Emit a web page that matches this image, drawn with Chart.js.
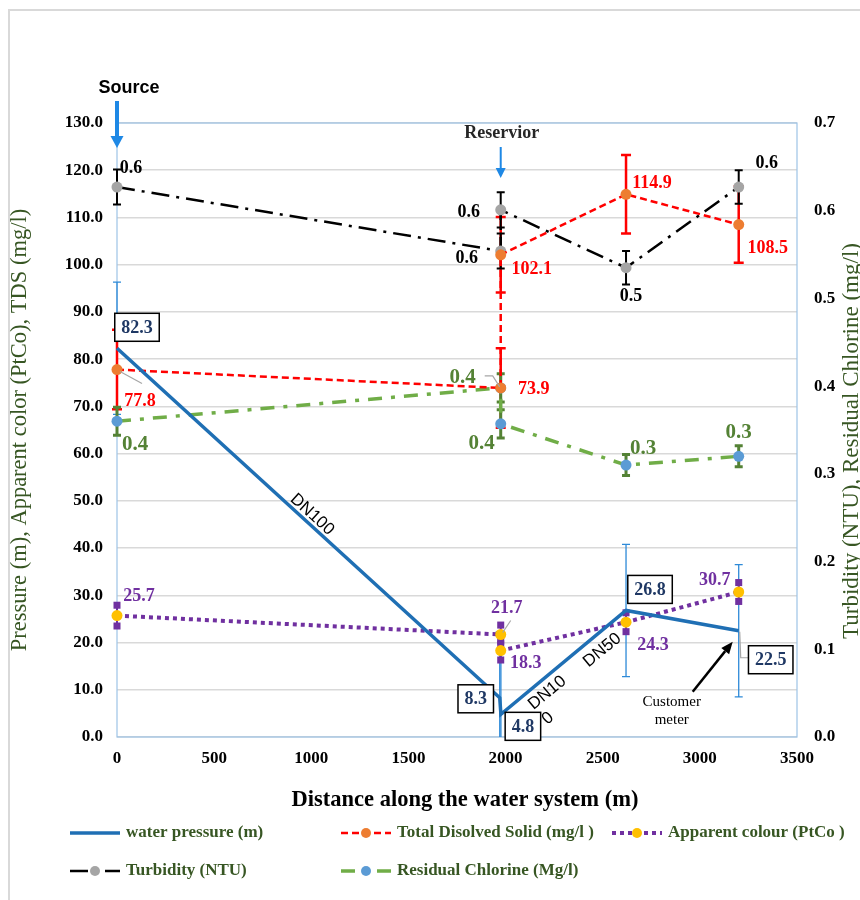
<!DOCTYPE html>
<html>
<head>
<meta charset="utf-8">
<script src="https://cdn.jsdelivr.net/npm/chart.js@4.4.1/dist/chart.umd.min.js"></script>
<style>
  body { margin: 0; background: #fff; }
  #wrap { width: 860px; height: 900px; }
</style>
</head>
<body>
<div id="wrap"><canvas id="chart" width="860" height="900"></canvas></div>
<script>
// distance along the system (m); the reservoir has two readings
const distance = [0, 1975, 1975, 2620, 3200];
const pressureDistance = [0, 1970, 1976, 2620, 3200];

const pressure = [82.3, 8.3, 4.8, 26.8, 22.5];
const tds = [77.8, 73.9, 102.1, 114.9, 108.5];
const colour = [25.7, 21.7, 18.3, 24.3, 30.7];
const turbidity = [0.627, 0.554, 0.601, 0.535, 0.627];
const chlorine = [0.36, 0.398, 0.357, 0.31, 0.32];

// error bar half sizes
const pressureErr = [14, 14, 14, 14, 14];
const tdsErr = [8.4, 8.4, 8.0, 8.3, 8.1];
const colourErr = [2.2, 2, 2, 2, 2];
const turbidityErr = [0.02, 0.02, 0.02, 0.019, 0.019];
const chlorineErr = [0.016, 0.016, 0.016, 0.012, 0.012];

const xTicks = [0, 500, 1000, 1500, 2000, 2500, 3000, 3500];
const leftTicks = [0, 10, 20, 30, 40, 50, 60, 70, 80, 90, 100, 110, 120, 130];
const rightTicks = [0, 0.1, 0.2, 0.3, 0.4, 0.5, 0.6, 0.7];

const SERIF = '"Liberation Serif", "Times New Roman", serif';
const SANS = '"Liberation Sans", Arial, sans-serif';

const pts = (xs, ys) => ys.map((v, i) => ({ x: xs[i], y: v }));

const datasets = [
  {
    label: 'water pressure (m)', data: pts(pressureDistance, pressure), yAxisID: 'y',
    borderColor: '#1f6fb4', borderWidth: 3.5, pointRadius: 0, clip: false,
    err: pressureErr, errStyle: { color: '#2e8ad8', width: 1.3, cap: 8 },
    lbl: { color: '#1f3864', font: 'bold 18px ' + SERIF, box: true,
      off: [[20, -21], [-24, 1], [22, 12], [24, -21], [32, 29]],
      leaders: { 4: [[1, 1], [2, 27], [10, 27]] } }
  },
  {
    label: 'Total Disolved Solid (mg/l )', data: pts(distance, tds), yAxisID: 'y',
    borderColor: '#ff0000', borderWidth: 2.5, borderDash: [7, 4], clip: false,
    pointRadius: 5.5, pointBackgroundColor: '#ed7d31', pointBorderWidth: 0,
    err: tdsErr, errStyle: { color: '#ff0000', width: 2.5, cap: 10 },
    lbl: { color: '#ff0000', font: 'bold 18px ' + SERIF,
      off: [[23, 31], [33, 0], [31, 14], [26, -12], [29, 23]],
      leaders: { 0: [[3, 2], [25, 14]] } }
  },
  {
    label: 'Apparent colour (PtCo )', data: pts(distance, colour), yAxisID: 'y',
    borderColor: '#7030a0', borderWidth: 4, borderDash: [4, 4], clip: false,
    pointRadius: 5.5, pointBackgroundColor: '#ffc000', pointBorderWidth: 0,
    err: colourErr, errStyle: { color: '#7030a0', width: 2, cap: 7, square: true },
    lbl: { color: '#7030a0', font: 'bold 18px ' + SERIF,
      off: [[22, -20], [6, -27], [25, 12], [27, 22], [-24, -13]],
      leaders: { 1: [[2, -2], [10, -14]] } }
  },
  {
    label: 'Turbidity (NTU)', data: pts(distance, turbidity), yAxisID: 'y2',
    borderColor: '#000000', borderWidth: 2.5, borderDash: [18, 7, 3, 7], clip: false,
    pointRadius: 5.5, pointBackgroundColor: '#a5a5a5', pointBorderWidth: 0,
    err: turbidityErr, errStyle: { color: '#000000', width: 2, cap: 8 },
    lbl: { color: '#000000', font: 'bold 18px ' + SERIF,
      off: [[14, -20], [-34, 6], [-32, 2], [5, 28], [28, -25]] }
  },
  {
    label: 'Residual Chlorine (Mg/l)', data: pts(distance, chlorine), yAxisID: 'y2',
    borderColor: '#70ad47', borderWidth: 3.5, borderDash: [14, 9, 4, 9], clip: false,
    pointRadius: 5.5, pointBackgroundColor: '#5b9bd5', pointBorderWidth: 0,
    err: chlorineErr, errStyle: { color: '#548235', width: 3, cap: 8 },
    lbl: { color: '#548235', font: 'bold 21px ' + SERIF,
      off: [[18, 22], [-38, -11], [-19, 19], [17, -18], [0, -25]],
      leaders: { 1: [[-16, -12], [-8, -12], [-1, -1]] } }
  }
];

// legend placement: [sample start x, row y]
const legendPos = [[70, 833], [341, 833], [612, 833], [70, 871], [341, 871]];

function text(ctx, s, x, y, font, color, align) {
  ctx.save();
  ctx.font = font;
  ctx.fillStyle = color;
  ctx.textAlign = align || 'center';
  ctx.textBaseline = 'middle';
  ctx.fillText(s, x, y);
  ctx.restore();
}

function arrow(ctx, x1, y1, x2, y2, color, width, head, headW) {
  const a = Math.atan2(y2 - y1, x2 - x1);
  ctx.save();
  ctx.strokeStyle = color; ctx.fillStyle = color; ctx.lineWidth = width;
  ctx.beginPath();
  ctx.moveTo(x1, y1);
  ctx.lineTo(x2 - Math.cos(a) * head, y2 - Math.sin(a) * head);
  ctx.stroke();
  ctx.translate(x2, y2); ctx.rotate(a);
  ctx.beginPath();
  ctx.moveTo(0, 0); ctx.lineTo(-head, -headW / 2); ctx.lineTo(-head, headW / 2);
  ctx.closePath(); ctx.fill();
  ctx.restore();
}

const decorations = {
  id: 'decorations',
  beforeDraw(chart) {
    const ctx = chart.ctx;
    ctx.save();
    ctx.fillStyle = '#fff';
    ctx.fillRect(0, 0, chart.width, chart.height);
    ctx.strokeStyle = '#d9d9d9'; ctx.lineWidth = 2;
    ctx.beginPath();
    ctx.moveTo(9, 900); ctx.lineTo(9, 10); ctx.lineTo(860, 10);
    ctx.stroke();
    ctx.restore();
  },
  beforeDatasetsDraw(chart) {
    const ctx = chart.ctx, a = chart.chartArea;
    ctx.save();
    ctx.strokeStyle = '#9dc3e6'; ctx.lineWidth = 1.2;
    ctx.strokeRect(a.left, a.top, a.right - a.left, a.bottom - a.top);
    // error bars
    ctx.beginPath();
    ctx.rect(a.left - 10, a.top, a.right - a.left + 20, a.bottom - a.top);
    ctx.clip();
    chart.data.datasets.forEach((ds, di) => {
      const meta = chart.getDatasetMeta(di);
      const ys = chart.scales[ds.yAxisID];
      const st = ds.errStyle;
      ds.data.forEach((p, i) => {
        const x = meta.data[i].x;
        const top = ys.getPixelForValue(p.y + ds.err[i]);
        const bot = ys.getPixelForValue(p.y - ds.err[i]);
        ctx.strokeStyle = st.color; ctx.fillStyle = st.color; ctx.lineWidth = st.width;
        ctx.beginPath();
        ctx.moveTo(x, top); ctx.lineTo(x, bot);
        if (!st.square) {
          ctx.moveTo(x - st.cap / 2, top); ctx.lineTo(x + st.cap / 2, top);
          ctx.moveTo(x - st.cap / 2, bot); ctx.lineTo(x + st.cap / 2, bot);
        }
        ctx.stroke();
        if (st.square) {
          ctx.fillRect(x - st.cap / 2, top - st.cap / 2, st.cap, st.cap);
          ctx.fillRect(x - st.cap / 2, bot - st.cap / 2, st.cap, st.cap);
        }
      });
    });
    ctx.restore();
  },
  afterDatasetsDraw(chart) {
    const ctx = chart.ctx;
    const xs = chart.scales.x;
    const area = chart.chartArea;

    // data labels
    chart.data.datasets.forEach((ds, di) => {
      const meta = chart.getDatasetMeta(di);
      const L = ds.lbl;
      ds.data.forEach((p, i) => {
        const px = meta.data[i].x, py = meta.data[i].y;
        const lead = L.leaders && L.leaders[i];
        if (lead) {
          ctx.save();
          ctx.strokeStyle = '#a6a6a6'; ctx.lineWidth = 1.2;
          ctx.beginPath();
          lead.forEach((q, k) => k ? ctx.lineTo(px + q[0], py + q[1]) : ctx.moveTo(px + q[0], py + q[1]));
          ctx.stroke();
          ctx.restore();
        }
        const cx = px + L.off[i][0], cy = py + L.off[i][1];
        const s = p.y.toFixed(1);
        if (L.box) {
          ctx.save();
          ctx.font = L.font;
          const w = ctx.measureText(s).width + 13, h = 28;
          ctx.fillStyle = '#fff';
          ctx.fillRect(cx - w / 2, cy - h / 2, w, h);
          ctx.strokeStyle = '#000'; ctx.lineWidth = 1.5;
          ctx.strokeRect(cx - w / 2, cy - h / 2, w, h);
          ctx.restore();
        }
        text(ctx, s, cx, cy + 1, L.font, L.color);
      });
    });

    // pipe diameters along the pressure line
    const pm = chart.getDatasetMeta(0).data;
    const along = (a, b, t, dx, dy) => [pm[a].x + (pm[b].x - pm[a].x) * t + dx, pm[a].y + (pm[b].y - pm[a].y) * t + dy];
    const ang = (a, b) => Math.atan2(pm[b].y - pm[a].y, pm[b].x - pm[a].x);
    const pipeLabels = [
      ['DN100', along(0, 1, 0.51, 0, -12), ang(0, 1)],
      ['DN10', along(2, 3, 0.37, 0, 17), ang(2, 3)],
      ['0', along(2, 3, 0.376, 0, 43), ang(2, 3)],
      ['DN50', along(2, 3, 0.81, 0, 20), ang(2, 3)]
    ];
    pipeLabels.forEach(([s, pos, a]) => {
      ctx.save();
      ctx.translate(pos[0], pos[1]); ctx.rotate(a);
      text(ctx, s, 0, 0, '17px ' + SANS, '#000');
      ctx.restore();
    });

    // customer meter note
    const last = pm[4];
    text(ctx, 'Customer', last.x - 67, last.y + 71, '15px ' + SERIF, '#000');
    text(ctx, 'meter', last.x - 67, last.y + 89, '15px ' + SERIF, '#000');
    arrow(ctx, last.x - 46, last.y + 61, last.x - 6, last.y + 11, '#000', 2.5, 12, 10);

    // source / reservoir markers
    const sx = xs.getPixelForValue(distance[0]);
    text(ctx, 'Source', sx + 12, 88, 'bold 18px ' + SANS, '#000');
    arrow(ctx, sx, 101, sx, 148, '#1e88e5', 4, 12, 13);
    const rx = xs.getPixelForValue(distance[1]);
    text(ctx, 'Reservior', rx + 1, 133, 'bold 18px ' + SERIF, '#262626');
    arrow(ctx, rx, 147, rx, 178, '#1e88e5', 2, 10, 10);

    // axis titles
    const midY = (area.top + area.bottom) / 2;
    ctx.save();
    ctx.translate(20, midY); ctx.rotate(-Math.PI / 2);
    text(ctx, 'Pressure (m), Apparent color (PtCo), TDS (mg/l)', 0, 0, '22.5px ' + SERIF, '#375623');
    ctx.restore();
    ctx.save();
    ctx.translate(852, midY + 11); ctx.rotate(-Math.PI / 2);
    text(ctx, 'Turbidity (NTU), Residual Chlorine (mg/l)', 0, 0, '23px ' + SERIF, '#375623');
    ctx.restore();
    text(ctx, 'Distance along the water system (m)', (area.left + area.right) / 2 + 8, 800, 'bold 22.5px ' + SERIF, '#000');

    // legend
    chart.data.datasets.forEach((ds, di) => {
      const [lx, ly] = legendPos[di];
      ctx.save();
      ctx.strokeStyle = ds.borderColor; ctx.lineWidth = ds.borderWidth;
      ctx.setLineDash(ds.borderDash || []);
      ctx.beginPath(); ctx.moveTo(lx, ly); ctx.lineTo(lx + 50, ly); ctx.stroke();
      if (ds.pointRadius) {
        ctx.fillStyle = ds.pointBackgroundColor;
        ctx.beginPath(); ctx.arc(lx + 25, ly, 5, 0, Math.PI * 2); ctx.fill();
      }
      ctx.restore();
      text(ctx, ds.label, lx + 56, ly, 'bold 17px ' + SERIF, '#375623', 'left');
    });
  }
};

const tickFont = { family: SERIF, size: 17, weight: 'bold' };

new Chart(document.getElementById('chart'), {
  type: 'line',
  data: { datasets },
  options: {
    responsive: false,
    animation: false,
    events: [],
    layout: { padding: { top: 123, left: 0, right: 0, bottom: 0 } },
    plugins: { legend: { display: false }, tooltip: { enabled: false } },
    scales: {
      x: {
        type: 'linear', min: 0, max: 3500,
        afterBuildTicks: s => { s.ticks = xTicks.map(v => ({ value: v })); },
        afterFit: s => { s.height = 163; },
        grid: { display: false, drawTicks: false },
        border: { display: false },
        ticks: { font: tickFont, color: '#000', padding: 11, maxRotation: 0, callback: v => String(v) }
      },
      y: {
        position: 'left', min: 0, max: 130,
        afterBuildTicks: s => { s.ticks = leftTicks.map(v => ({ value: v })); },
        afterFit: s => { s.width = 117; },
        grid: { color: '#d9d9d9', lineWidth: 1.5, drawTicks: false },
        border: { display: false },
        ticks: { font: tickFont, color: '#000', padding: 14, callback: v => v.toFixed(1) }
      },
      y2: {
        position: 'right', min: 0, max: 0.7,
        afterBuildTicks: s => { s.ticks = rightTicks.map(v => ({ value: v })); },
        afterFit: s => { s.width = 63; },
        grid: { display: false, drawTicks: false },
        border: { display: false },
        ticks: { font: tickFont, color: '#000', padding: 17, callback: v => v.toFixed(1) }
      }
    }
  },
  plugins: [decorations]
});
</script>
</body>
</html>
